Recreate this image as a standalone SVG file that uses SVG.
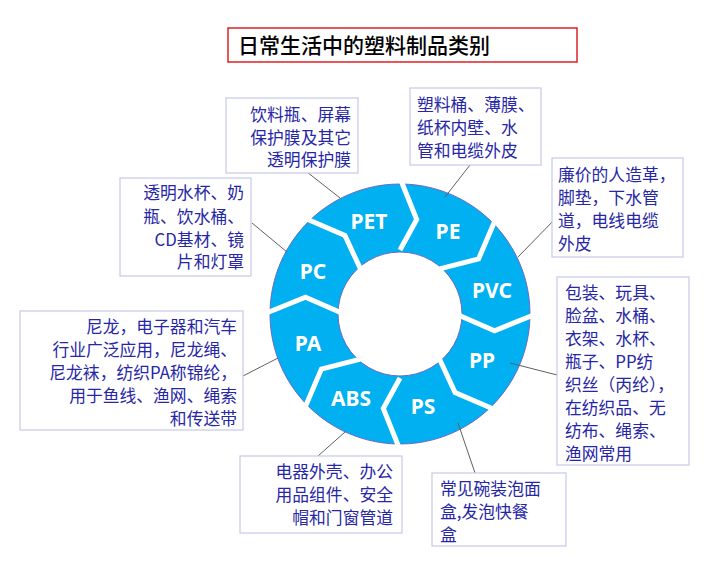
<svg xmlns="http://www.w3.org/2000/svg" width="714" height="566" viewBox="0 0 714 566">
<style>
.box{fill:#fff;stroke:#c8c8ec;stroke-width:1.2}
.t{font-family:"Noto Sans CJK SC","Noto Sans",sans-serif;font-size:16.8px;fill:#2626a6}
.r{text-anchor:end}
.lbl{font-family:"Noto Sans","Liberation Sans",sans-serif;font-weight:bold;font-size:21px;fill:#fff;text-anchor:middle}
.sep{fill:none;stroke:#fff;stroke-width:5;stroke-linejoin:miter}
.con line{stroke:#606060;stroke-width:1}
</style>
<rect width="714" height="566" fill="#fff"/>
<g id="title">
<rect x="228" y="28" width="349" height="34" fill="#fff" stroke="#e02020" stroke-width="1.5"/>
<text x="238" y="53" font-family="Noto Sans CJK SC,sans-serif" font-size="21" font-weight="500" fill="#000">日常生活中的塑料制品类别</text>
</g>
<g id="ring">
<path d="M400,184 A130,130 0 1,1 399.99,184 Z M400,252 A62,62 0 1,0 400.01,252 Z" fill="#00B0F0" fill-rule="evenodd" stroke="#6a6ac8" stroke-width="1"/>
<polyline class="sep" points="400,250 416.7,219.5 400,178"/>
<polyline class="sep" points="439.6,268.8 478.6,258.9 496.2,217.8"/>
<polyline class="sep" points="456,314 494.5,330.7 536,314"/>
<polyline class="sep" points="439.6,359.2 455.1,392.6 496.2,410.2"/>
<polyline class="sep" points="400,378 383.3,408.5 400,450"/>
<polyline class="sep" points="360.4,359.2 321.4,369.1 303.8,410.2"/>
<polyline class="sep" points="344,314 305.5,297.3 264,314"/>
<polyline class="sep" points="360.4,268.8 344.9,235.4 303.8,217.8"/>
<text class="lbl" x="369" y="229">PET</text>
<text class="lbl" x="448" y="239">PE</text>
<text class="lbl" x="492" y="298">PVC</text>
<text class="lbl" x="482" y="368">PP</text>
<text class="lbl" x="423" y="414">PS</text>
<text class="lbl" x="351" y="406">ABS</text>
<text class="lbl" x="308" y="351">PA</text>
<text class="lbl" x="313" y="279">PC</text>
</g>
<g class="con" id="connectors">
<line x1="307" y1="172" x2="340" y2="198"/>
<line x1="252" y1="223" x2="287" y2="252"/>
<line x1="470" y1="165" x2="445" y2="197"/>
<line x1="557" y1="217" x2="518" y2="257"/>
<line x1="510" y1="363" x2="565" y2="377"/>
<line x1="458" y1="423" x2="475" y2="473"/>
<line x1="345" y1="432" x2="318" y2="456"/>
<line x1="278" y1="358" x2="243" y2="376"/>
</g>
<g id="n-pet">
<rect class="box" x="226" y="98" width="132" height="75"/>
<text class="t r"><tspan x="351" y="121">饮料瓶、屏幕</tspan><tspan x="351" y="144">保护膜及其它</tspan><tspan x="351" y="166">透明保护膜</tspan></text>
</g>
<g id="n-pc">
<rect class="box" x="120" y="178" width="131" height="98"/>
<text class="t r"><tspan x="244" y="199">透明水杯、奶</tspan><tspan x="244" y="223">瓶、饮水桶、</tspan><tspan x="244" y="246">CD基材、镜</tspan><tspan x="244" y="268">片和灯罩</tspan></text>
</g>
<g id="n-pe">
<rect class="box" x="410" y="88" width="131" height="77"/>
<text class="t"><tspan x="417" y="111">塑料桶、薄膜、</tspan><tspan x="417" y="134">纸杯内壁、水</tspan><tspan x="417" y="157">管和电缆外皮</tspan></text>
</g>
<g id="n-pvc">
<rect class="box" x="552" y="158" width="131" height="99"/>
<text class="t"><tspan x="558" y="181">廉价的人造革，</tspan><tspan x="558" y="204">脚垫，下水管</tspan><tspan x="558" y="227">道，电线电缆</tspan><tspan x="558" y="250">外皮</tspan></text>
</g>
<g id="n-pp">
<rect class="box" x="557" y="277" width="132" height="188"/>
<text class="t"><tspan x="565" y="299">包装、玩具、</tspan><tspan x="565" y="322">脸盆、水桶、</tspan><tspan x="565" y="345">衣架、水杯、</tspan><tspan x="565" y="368">瓶子、PP纺</tspan><tspan x="565" y="391">织丝（丙纶），</tspan><tspan x="565" y="414">在纺织品、无</tspan><tspan x="565" y="437">纺布、绳索、</tspan><tspan x="565" y="460">渔网常用</tspan></text>
</g>
<g id="n-ps">
<rect class="box" x="432" y="473" width="134" height="73"/>
<text class="t"><tspan x="440" y="495">常见碗装泡面</tspan><tspan x="440" y="518">盒,发泡快餐</tspan><tspan x="440" y="541">盒</tspan></text>
</g>
<g id="n-abs">
<rect class="box" x="240" y="456" width="162" height="77"/>
<text class="t r"><tspan x="393" y="478">电器外壳、办公</tspan><tspan x="393" y="501">用品组件、安全</tspan><tspan x="393" y="524">帽和门窗管道</tspan></text>
</g>
<g id="n-pa">
<rect class="box" x="20" y="311" width="223" height="119"/>
<text class="t r"><tspan x="237" y="333">尼龙，电子器和汽车</tspan><tspan x="237" y="356">行业广泛应用，尼龙绳、</tspan><tspan x="237" y="379">尼龙袜，纺织PA称锦纶，</tspan><tspan x="237" y="402">用于鱼线、渔网、绳索</tspan><tspan x="237" y="425">和传送带</tspan></text>
</g>
</svg>
